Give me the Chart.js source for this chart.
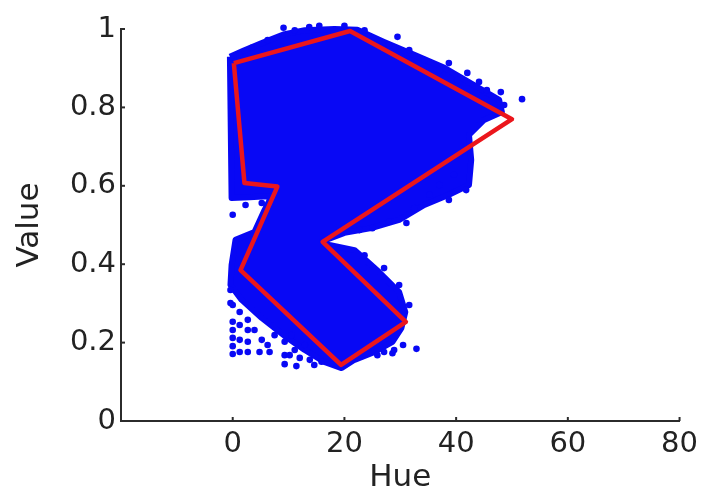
<!DOCTYPE html>
<html>
<head>
<meta charset="utf-8">
<script src="https://cdn.jsdelivr.net/npm/chart.js@4.4.0/dist/chart.umd.min.js"></script>
<style>
  body { margin: 0; background: #ffffff; }
  #hull { display: block; }
</style>
</head>
<body>
<canvas id="hull" width="704" height="493"></canvas>
<script>
////data //////////////////////////////////////////////

//outline of the dense blue cloud of pixels (hue, value)
const blobHue = [-0.5, 2.1, 5.2, 9.3, 12.9, 18.2, 22.3, 27.1, 32.5, 37.9, 43.2, 47.7, 48.2, 45.0,
  42.3, 42.7, 42.3, 38.7, 34.3, 29.8, 24.8, 20.0, 16.1, 17.3, 21.8, 26.2, 29.8, 30.9, 30.2,
  28.6, 25.4, 21.8, 19.5, 16.4, 12.9, 9.3, 5.2, 1.6, -0.4, -0.2, 0.5, 3.9, 5.7, 7.0, 3.0, -0.2, -0.5];
const blobValue = [0.929, 0.946, 0.964, 0.987, 0.997, 1.0, 0.998, 0.967, 0.934, 0.901, 0.857, 0.819, 0.788, 0.768,
  0.730, 0.666, 0.602, 0.577, 0.551, 0.513, 0.492, 0.480, 0.459, 0.449, 0.436, 0.380, 0.329, 0.278, 0.237,
  0.202, 0.176, 0.156, 0.135, 0.151, 0.181, 0.217, 0.263, 0.309, 0.347, 0.398, 0.462, 0.482, 0.538, 0.574, 0.571, 0.569, 0.929];

//single pixels lying around the edge of the cloud
const strayHue = [
  9.1, 13.7, 29.5, 38.7, 42.0, 48.0, 51.8, 41.8, 38.7, 31.1, 25.0, 32.9, 0, 2.3, 5.2, 0, 28.6,
  //top edge
  1.25, 3.4, 6.25, 11.1, 15.5, 20.0, 23.6, 28.0, 31.6, 34.3, 37.0, 40.2, 44.1, 45.5, 48.6,
  //outside the notch
  40.5, 39.6, 37.0, 35.2, 32.5, 28.0, 22.7,
  //right of the lower lobe
  23.6, 27.1, 29.8, 31.6,
  //loose columns at the bottom
  0, 0, 0, 0, 2.7, 2.7, 2.7, 2.7, 4.8, 6.25, 9.3, 9.3, 9.3, 10.5, 11.1, 11.4, 12.9, 13.8, 15.9,
  25.9, 27.1, 28.9, 30.5, -0.4, -0.4,
  1.25, 1.25, 1.25, 3.9, 5.2, 6.6, 7.5, 12.0, 1.25, 10.2, 14.6, 0];
const strayValue = [
  1.003, 1.005, 0.980, 0.913, 0.888, 0.839, 0.821, 0.589, 0.564, 0.505, 0.492, 0.184, 0.526, 0.551, 0.556, 0.296, 0.173,
  0.934, 0.952, 0.972, 0.997, 1.008, 1.008, 0.997, 0.959, 0.946, 0.921, 0.895, 0.870, 0.865, 0.844, 0.806,
  0.679, 0.628, 0.602, 0.577, 0.543, 0.508, 0.487,
  0.423, 0.390, 0.347, 0.296,
  0.232, 0.212, 0.191, 0.171, 0.258, 0.232, 0.202, 0.176, 0.176, 0.194, 0.202, 0.168, 0.145, 0.219, 0.181, 0.140, 0.194, 0.156, 0.151,
  0.168, 0.176, 0.181, 0.194, 0.334, 0.301,
  0.278, 0.245, 0.207, 0.232, 0.207, 0.176, 0.219, 0.161, 0.176, 0.168, 0.143, 0.253];

//red boundary polygon
const hullHue = [0.2, 21.0, 50.0, 16.1, 31.0, 19.4, 1.4, 8.0, 2.1, 0.2];
const hullValue = [0.913, 0.995, 0.77, 0.457, 0.253, 0.143, 0.385, 0.598, 0.607, 0.913];

//tick labels
const hueTicks = [0, 20, 40, 60, 80];
const valueTicks = [0, 0.2, 0.4, 0.6, 0.8, 1];

const toPoints = (xs, ys) => xs.map((x, i) => ({ x: x, y: ys[i] }));

const blue = "rgb(8,8,245)";
const red = "rgb(235,22,28)";
const axisColor = "#2b2b2b";

////small inward tick marks like the original plot ///////////////////////////
const innerTicks = {
  id: "innerTicks",
  afterDraw(chart) {
    const ctx = chart.ctx;
    const xs = chart.scales.x;
    const ys = chart.scales.y;
    ctx.save();
    ctx.strokeStyle = axisColor;
    ctx.lineWidth = 2;
    xs.ticks.forEach((t) => {
      const p = xs.getPixelForValue(t.value);
      ctx.beginPath();
      ctx.moveTo(p, ys.bottom);
      ctx.lineTo(p, ys.bottom - 4);
      ctx.stroke();
    });
    ys.ticks.forEach((t) => {
      const p = ys.getPixelForValue(t.value);
      ctx.beginPath();
      ctx.moveTo(xs.left, p);
      ctx.lineTo(xs.left + 4, p);
      ctx.stroke();
    });
    ctx.restore();
  },
};

////render chart ///////////////////////////////////////////////////////////
const tickFont = { family: "'DejaVu Sans', sans-serif", size: 29 };
const titleFont = { family: "'DejaVu Sans', sans-serif", size: 31, lineHeight: 1 };

new Chart(document.getElementById("hull"), {
  type: "scatter",
  plugins: [innerTicks],
  data: {
    datasets: [
      {
        //red polygon on top
        order: 0,
        data: toPoints(hullHue, hullValue),
        showLine: true,
        fill: false,
        borderColor: red,
        borderWidth: 4.5,
        borderJoinStyle: "round",
        pointRadius: 0,
        clip: false,
      },
      {
        order: 1,
        data: toPoints(strayHue, strayValue),
        backgroundColor: blue,
        borderWidth: 0,
        pointRadius: 3.3,
        clip: false,
      },
      {
        order: 2,
        data: toPoints(blobHue, blobValue),
        showLine: true,
        fill: "shape",
        backgroundColor: blue,
        borderColor: blue,
        borderWidth: 6,
        borderJoinStyle: "round",
        pointRadius: 0,
        clip: false,
      },
    ],
  },
  options: {
    responsive: false,
    animation: false,
    devicePixelRatio: 1,
    layout: { padding: { top: 29, right: 23, bottom: 0, left: 0 } },
    plugins: {
      legend: { display: false },
      tooltip: { enabled: false },
    },
    scales: {
      x: {
        type: "linear",
        min: -20,
        max: 80,
        afterBuildTicks: (scale) => {
          scale.ticks = hueTicks.map((v) => ({ value: v }));
        },
        afterFit: (scale) => {
          scale.height = 72;
        },
        grid: { display: true, drawOnChartArea: false, drawTicks: false },
        border: { color: axisColor, width: 2 },
        ticks: { color: "#222", font: tickFont, padding: 6, maxRotation: 0 },
        title: { display: true, text: "Hue", color: "#222", font: titleFont, padding: 0 },
      },
      y: {
        type: "linear",
        min: 0,
        max: 1,
        afterBuildTicks: (scale) => {
          scale.ticks = valueTicks.map((v) => ({ value: v }));
        },
        afterFit: (scale) => {
          scale.width = 121;
        },
        grid: { display: true, drawOnChartArea: false, drawTicks: false },
        border: { color: axisColor, width: 2 },
        ticks: {
          color: "#222",
          font: tickFont,
          padding: 5,
          callback: (v) => String(+v.toFixed(1)),
        },
        title: { display: true, text: "Value", color: "#222", font: titleFont, padding: { top: 14, bottom: 0 } },
      },
    },
  },
});
</script>
</body>
</html>
